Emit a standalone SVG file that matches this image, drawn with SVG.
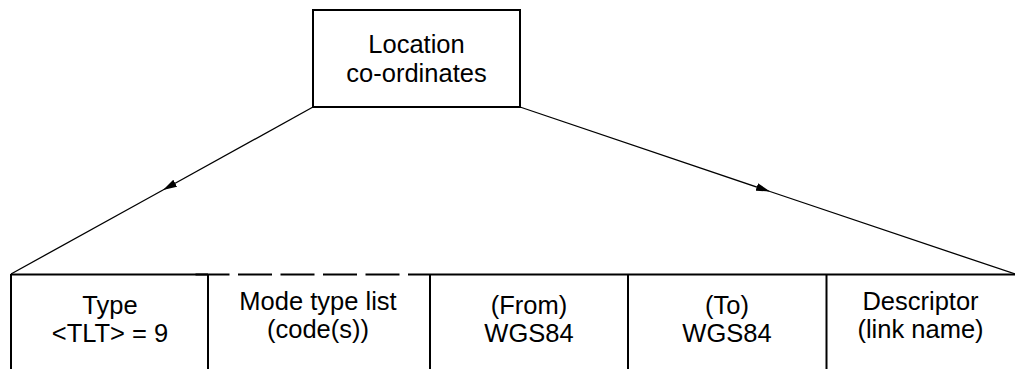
<svg xmlns="http://www.w3.org/2000/svg" width="1015" height="369" viewBox="0 0 1015 369">
<style>
.t{font-family:"Liberation Sans",Arial,sans-serif;font-size:25.5px;fill:#000;text-anchor:middle}
.b{fill:#fff;stroke:#000;stroke-width:2}
.s{stroke:#000;stroke-width:2;fill:none}
.c{stroke:#000;stroke-width:1.3;fill:none}
</style>
<defs>
<marker id="ah" viewBox="0 0 14 8" refX="14" refY="4" markerWidth="14" markerHeight="8" markerUnits="userSpaceOnUse" orient="auto">
<path d="M0,0 L14,4 L0,8 Z" fill="#000"/>
</marker>
</defs>
<rect width="1015" height="369" fill="#fff"/>
<g id="connectors">
<line class="c" x1="313" y1="107" x2="163" y2="190" marker-end="url(#ah)"/>
<line class="c" x1="163" y1="190" x2="11" y2="274"/>
<line class="c" x1="520" y1="107" x2="770" y2="191.5" marker-end="url(#ah)"/>
<line class="c" x1="770" y1="191.5" x2="1015" y2="274"/>
</g>
<g id="location">
<rect class="b" x="313" y="10" width="207" height="97"/>
<text class="t" x="416.5" y="53">Location</text>
<text class="t" x="416.5" y="82">co-ordinates</text>
</g>
<g id="table">
<line class="s" x1="11" y1="274.5" x2="208" y2="274.5" stroke-width="2.5"/>
<line class="s" x1="195.5" y1="274.5" x2="430" y2="274.5" stroke-width="2.5" stroke-dasharray="34 8.5"/>
<line class="s" x1="430" y1="274.5" x2="1015" y2="274.5" stroke-width="2.5"/>
</g>
<g id="cell-type">
<line class="s" x1="11" y1="274" x2="11" y2="369"/>
<text class="t" x="110" y="314">Type</text>
<text class="t" x="110" y="342">&lt;TLT&gt; = 9</text>
</g>
<g id="cell-mode">
<line class="s" x1="208" y1="274" x2="208" y2="369"/>
<text class="t" x="318" y="310">Mode type list</text>
<text class="t" x="318" y="338">(code(s))</text>
</g>
<g id="cell-from">
<line class="s" x1="430" y1="274" x2="430" y2="369"/>
<text class="t" x="529" y="314">(From)</text>
<text class="t" x="529" y="342">WGS84</text>
</g>
<g id="cell-to">
<line class="s" x1="628" y1="274" x2="628" y2="369"/>
<text class="t" x="727" y="314">(To)</text>
<text class="t" x="727" y="342">WGS84</text>
</g>
<g id="cell-descriptor">
<line class="s" x1="826.5" y1="274" x2="826.5" y2="369"/>
<text class="t" x="920.5" y="310">Descriptor</text>
<text class="t" x="920.5" y="338">(link name)</text>
</g>
</svg>
